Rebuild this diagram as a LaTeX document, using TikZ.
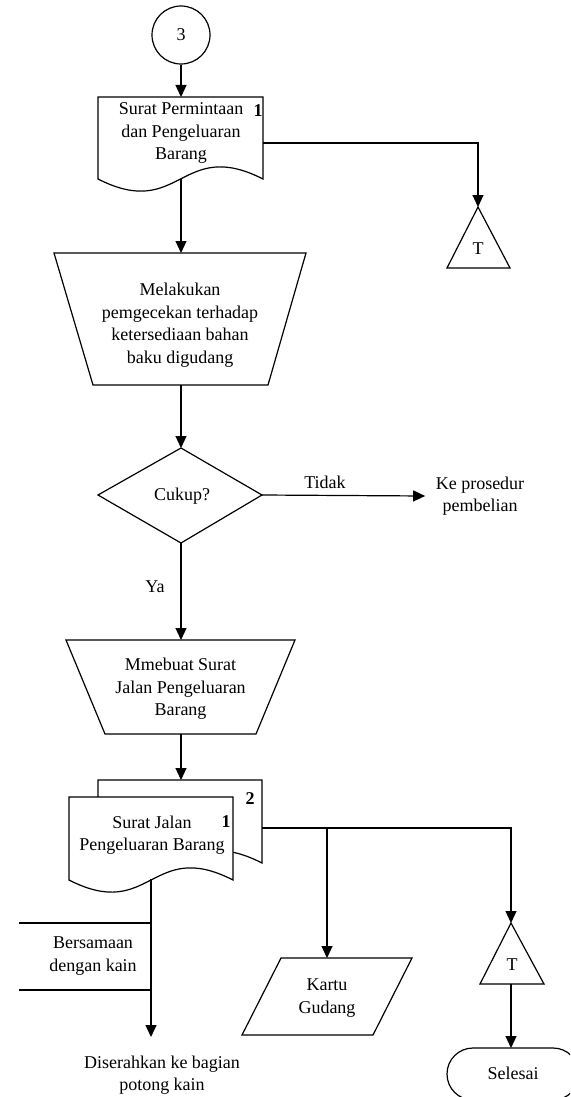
\documentclass[tikz,border=0pt]{standalone}
\usepackage{fontspec}
\setmainfont{Liberation Serif}
\usetikzlibrary{arrows.meta}
\begin{document}
\begin{tikzpicture}[x=1pt,y=-1pt, line width=1.2pt,
  arr/.style={-{Triangle[length=12pt,width=11pt]}},
  txt/.style={font=\fontsize{18}{22.5}\selectfont, align=center, inner sep=0pt},
  num/.style={font=\fontsize{18}{22.5}\selectfont\bfseries, inner sep=0pt},
  shp/.style={draw, fill=white, line join=miter}]
\useasboundingbox (0,0) rectangle (570,1097);
\clip (0,0) rectangle (570,1097);

% connector 3
\node[draw, circle, minimum size=58pt, inner sep=0pt, txt] (c3) at (181,35) {3};

% document 1
\draw[shp] (98,97) -- (263,97) -- (263,179) .. controls (180.5,137) and (180.5,221) .. (98,179) -- cycle;
\coordinate (d1top) at (181,97);
\coordinate (d1bot) at (181,179);
\coordinate (d1right) at (263,143);
\node[txt] (d1t) at (181,133) {Surat Permintaan\\dan Pengeluaran\\Barang};
\node[num] (d1n) at (258,111) {1};

% off-page T1
\draw[shp] (478,207) -- (510,268) -- (447,268) -- cycle;
\coordinate (t1top) at (478,207);
\node[txt] (t1t) at (478,249) {T};

% trapezoid 1
\draw[shp] (54,253) -- (306,253) -- (268,385) -- (93,385) -- cycle;
\coordinate (p1top) at (181,253);
\coordinate (p1bot) at (181,385);
\node[txt] (p1t) at (180,325) {Melakukan\\pemgecekan terhadap\\ketersediaan bahan\\baku digudang};

% decision
\draw[shp] (181,448) -- (262,495) -- (181,543) -- (98,495) -- cycle;
\coordinate (dtop) at (181,448);
\coordinate (dright) at (262,495);
\coordinate (dbot) at (181,543);
\node[txt] (dt) at (182,496) {Cukup?};
\node[txt, inner xsep=10pt] (kp) at (480,496) {Ke prosedur\\pembelian};
\node[txt] (tidak) at (325,482) {Tidak};
\node[txt] (ya) at (155,587) {Ya};

% trapezoid 2
\draw[shp] (66,640) -- (295,640) -- (256,734) -- (105,734) -- cycle;
\coordinate (p2top) at (181,640);
\coordinate (p2bot) at (181,734);
\node[txt] (p2t) at (180.5,689) {Mmebuat Surat\\Jalan Pengeluaran\\Barang};

% multi document
\draw[shp] (98,780) -- (262,780) -- (262,863) .. controls (180,821) and (180,905) .. (98,863) -- cycle;
\draw[shp] (69,797) -- (233,797) -- (233,880) .. controls (151,838) and (151,922) .. (69,880) -- cycle;
\coordinate (d2top) at (181,780);
\coordinate (d2right) at (262,828);
\coordinate (d2bot) at (151,879);
\node[txt] (d2t) at (152,835) {Surat Jalan\\Pengeluaran Barang};
\node[num] (d2n1) at (226,822) {1};
\node[num] (d2n2) at (250,799) {2};

% parallelogram
\draw[shp] (281,958) -- (412,958) -- (373,1035) -- (242,1035) -- cycle;
\coordinate (kgtop) at (327,958);
\node[txt] (kgt) at (327,998) {Kartu\\Gudang};

% off-page T2
\draw[shp] (511,923) -- (544,984) -- (480,984) -- cycle;
\coordinate (t2top) at (511,923);
\coordinate (t2bot) at (511,984);
\node[txt] (t2t) at (512,965) {T};

% terminal
\draw[shp, rounded corners=26pt] (447,1048) rectangle (579,1100);
\coordinate (sltop) at (511,1048);
\node[txt] (sl) at (513,1073) {Selesai};

% bottom left
\coordinate (dsTip) at (151,1037);
\coordinate (b1a) at (19,923);
\coordinate (b1b) at (151,923);
\coordinate (b2a) at (19,990);
\coordinate (b2b) at (151,990);
\node[txt] (bs) at (93,956) {Bersamaan\\dengan kain};
\node[txt] (ds) at (162,1075) {Diserahkan ke bagian\\potong kain};

% connectors
\draw[arr] (c3) -- (d1top);
\draw[arr] (d1right) -| (t1top);
\draw[arr] (d1bot) -- (p1top);
\draw[arr] (p1bot) -- (dtop);
\draw[arr] (dright) -- (kp.west);
\draw[arr] (dbot) -- (p2top);
\draw[arr] (p2bot) -- (d2top);
\draw[arr] (d2right) -| (t2top);
\draw[arr] (d2right -| kgtop) -- (kgtop);
\draw[arr] (t2bot) -- (sltop);
\draw[arr] (d2bot) -- (dsTip);
\draw (b1a) -- (b1b);
\draw (b2a) -- (b2b);
\end{tikzpicture}
\end{document}
